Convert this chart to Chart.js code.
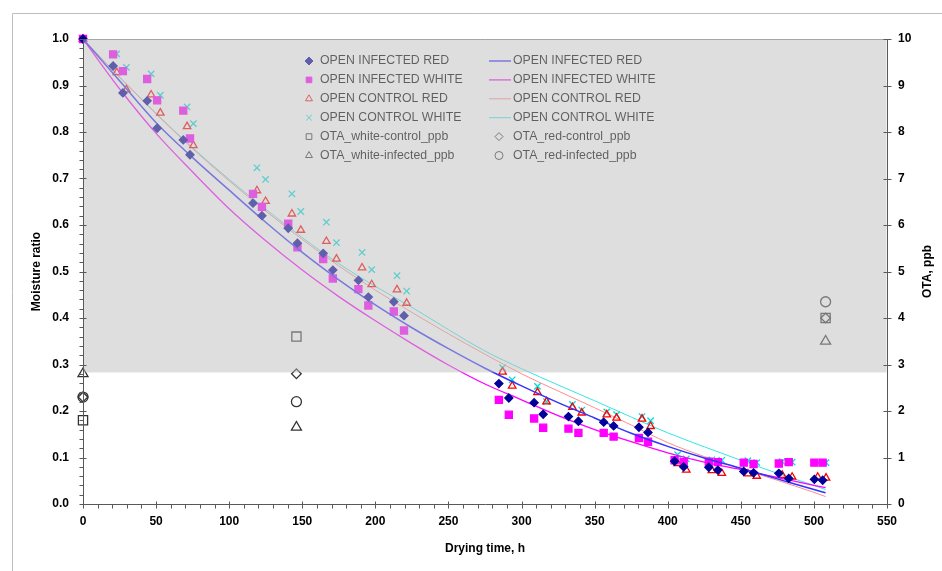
<!DOCTYPE html>
<html lang="en">
<head>
<meta charset="UTF-8">
<title>Moisture ratio and OTA during drying</title>
<script src="https://cdn.jsdelivr.net/npm/chart.js"></script>
<style>
  body { margin: 0; background: #fff; }
  canvas { display: block; }
</style>
</head>
<body>
<canvas id="chart" width="942" height="571"></canvas>
<script>
// sampling times (h): infected samples and control samples
const tInfected = [0, 20.6, 27.3, 43.9, 50.7, 68.6, 73.2, 116.3, 122.4, 140.4, 146.7, 164.3, 170.9, 188.4, 195.2, 212.6, 219.6,
  284.5, 291.3, 308.6, 314.8, 332.1, 338.9, 356.2, 363, 380.3, 386.5, 404.7, 410.9, 428.1, 434.3, 452, 458.7, 476, 482.8, 500.3, 506];
const tControl = [0, 23.1, 29.7, 46.6, 52.9, 71.2, 75.5, 119, 124.9, 142.9, 149, 166.5, 173.4, 190.9, 197.5, 214.8, 221.4,
  287, 293.6, 310.9, 317.1, 334.8, 341.2, 358.3, 365, 382.4, 388.3, 406.8, 412.7, 430.2, 437, 454.8, 460.9, 478.3, 485.1, 502.6, 508.3];

// measured moisture ratio
const mrInfectedRed = [1, 0.942, 0.884, 0.867, 0.808, 0.783, 0.751, 0.647, 0.620, 0.593, 0.561, 0.539, 0.503, 0.481, 0.445, 0.435, 0.405,
  0.259, 0.228, 0.218, 0.193, 0.188, 0.178, 0.176, 0.168, 0.165, 0.154, 0.092, 0.080, 0.079, 0.073, 0.070, 0.067, 0.066, 0.055, 0.053, 0.051];
const mrInfectedWhite = [1, 0.967, 0.931, 0.914, 0.868, 0.846, 0.786, 0.667, 0.639, 0.603, 0.552, 0.527, 0.485, 0.462, 0.427, 0.414, 0.373,
  0.224, 0.192, 0.184, 0.164, 0.162, 0.153, 0.153, 0.145, 0.142, 0.134, 0.094, 0.090, 0.091, 0.090, 0.089, 0.086, 0.087, 0.090, 0.089, 0.089];
const mrControlRed = [1, 0.928, 0.891, 0.880, 0.841, 0.812, 0.771, 0.674, 0.651, 0.624, 0.589, 0.565, 0.527, 0.508, 0.472, 0.461, 0.432,
  0.284, 0.254, 0.240, 0.220, 0.208, 0.196, 0.192, 0.185, 0.183, 0.167, 0.087, 0.073, 0.072, 0.066, 0.065, 0.060, 0.062, 0.058, 0.058, 0.056];
const mrControlWhite = [1, 0.968, 0.939, 0.925, 0.879, 0.854, 0.818, 0.723, 0.698, 0.667, 0.629, 0.606, 0.562, 0.541, 0.504, 0.491, 0.458,
  0.293, 0.267, 0.253, 0.220, 0.214, 0.202, 0.198, 0.192, 0.188, 0.179, 0.106, 0.097, 0.095, 0.094, 0.093, 0.089, 0.091, 0.090, 0.089, 0.089];

// fitted drying curves
const tFit = [0, 25, 50, 75, 100, 125, 150, 175, 200, 225, 250, 275, 300, 325, 350, 375, 400, 425, 450, 475, 500, 508];
const fitInfectedRed = [1, 0.91, 0.82, 0.745, 0.675, 0.606, 0.541, 0.482, 0.428, 0.379, 0.334, 0.292, 0.254, 0.218, 0.185, 0.152, 0.124, 0.099, 0.077, 0.054, 0.031, 0.024];
const fitInfectedWhite = [1, 0.893, 0.797, 0.714, 0.635, 0.566, 0.503, 0.446, 0.394, 0.345, 0.299, 0.258, 0.224, 0.19, 0.16, 0.134, 0.110, 0.090, 0.074, 0.057, 0.040, 0.035];
const fitControlRed = [1, 0.918, 0.839, 0.764, 0.695, 0.630, 0.569, 0.512, 0.460, 0.412, 0.366, 0.322, 0.280, 0.243, 0.207, 0.170, 0.132, 0.102, 0.076, 0.051, 0.025, 0.016];
const fitControlWhite = [1, 0.918, 0.840, 0.766, 0.698, 0.634, 0.573, 0.517, 0.468, 0.423, 0.375, 0.329, 0.291, 0.256, 0.222, 0.187, 0.153, 0.123, 0.094, 0.066, 0.040, 0.031];

// OTA (ppb), right axis
const tOta = [0, 146, 508];
const otaWhiteControl = [1.8, 3.6, 4.0];
const otaRedControl = [2.3, 2.8, 4.0];
const otaWhiteInfected = [2.8, 1.65, 3.5];
const otaRedInfected = [2.3, 2.2, 4.35];

const xTicks = [0, 50, 100, 150, 200, 250, 300, 350, 400, 450, 500, 550];
const mrTicks = [0, 0.1, 0.2, 0.3, 0.4, 0.5, 0.6, 0.7, 0.8, 0.9, 1.0];
const otaTicks = [0, 1, 2, 3, 4, 5, 6, 7, 8, 9, 10];

function pts(xs, ys) {
  return xs.map((x, i) => ({ x: x, y: ys[i] }));
}

function marks(label, xs, ys, style, color, fill, radius, axis) {
  return {
    label: label,
    data: pts(xs, ys),
    yAxisID: axis || 'y',
    showLine: false,
    pointStyle: style,
    pointRadius: radius,
    pointBorderColor: color,
    pointBackgroundColor: fill,
    pointBorderWidth: 1.3,
    borderColor: color,
    backgroundColor: fill,
    clip: false
  };
}

function curve(label, ys, color, width) {
  return {
    label: label,
    data: pts(tFit, ys),
    yAxisID: 'y',
    showLine: true,
    pointRadius: 0,
    borderColor: color,
    backgroundColor: color,
    borderWidth: width,
    cubicInterpolationMode: 'monotone',
    clip: false
  };
}

const datasets = [
  marks('OPEN INFECTED RED', tInfected, mrInfectedRed, 'rectRot', '#000099', '#000099', 4),
  curve('OPEN INFECTED RED', fitInfectedRed, '#3333ff', 1.5),
  marks('OPEN INFECTED WHITE', tInfected, mrInfectedWhite, 'rect', '#ff00ff', '#ff00ff', 5),
  curve('OPEN INFECTED WHITE', fitInfectedWhite, '#ff00ff', 1.3),
  marks('OPEN CONTROL RED', tControl, mrControlRed, 'triangle', '#ff0000', 'rgba(0,0,0,0)', 4.3),
  curve('OPEN CONTROL RED', fitControlRed, '#ff8c8c', 1),
  marks('OPEN CONTROL WHITE', tControl, mrControlWhite, 'crossRot', '#00dddd', 'rgba(0,0,0,0)', 4.5),
  curve('OPEN CONTROL WHITE', fitControlWhite, '#33e6e6', 1),
  marks('OTA_white-control_ppb', tOta, otaWhiteControl, 'rect', '#333333', 'rgba(0,0,0,0)', 6.5, 'y2'),
  marks('OTA_red-control_ppb', tOta, otaRedControl, 'rectRot', '#333333', 'rgba(0,0,0,0)', 4.8, 'y2'),
  marks('OTA_white-infected_ppb', tOta, otaWhiteInfected, 'triangle', '#333333', 'rgba(0,0,0,0)', 5.8, 'y2'),
  marks('OTA_red-infected_ppb', tOta, otaRedInfected, 'circle', '#333333', 'rgba(0,0,0,0)', 5, 'y2')
];

// legend box: grey translucent panel laid over the upper part of the plot
const panelBottom = 0.283;

const decorations = {
  id: 'decorations',
  afterDatasetsDraw(chart) {
    const ctx = chart.ctx;
    const area = chart.chartArea;
    const yS = chart.scales.y;

    // legend entries, two columns
    ctx.save();
    ctx.font = '12.3px "Liberation Sans", Arial, sans-serif';
    ctx.textBaseline = 'middle';
    ctx.textAlign = 'left';
    chart.data.datasets.forEach((ds, i) => {
      const col = i % 2;
      const row = Math.floor(i / 2);
      const y = 61 + row * 18.9;
      const textX = col === 0 ? 320 : 513;
      if (ds.showLine) {
        ctx.strokeStyle = ds.borderColor;
        ctx.lineWidth = ds.borderWidth;
        ctx.beginPath();
        ctx.moveTo(489, y);
        ctx.lineTo(511, y);
        ctx.stroke();
      } else {
        ctx.fillStyle = ds.backgroundColor;
        ctx.strokeStyle = ds.borderColor;
        ctx.lineWidth = 1;
        Chart.helpers.drawPoint(ctx, {
          pointStyle: ds.pointStyle,
          radius: Math.min(ds.pointRadius, 4),
          rotation: 0,
          borderWidth: 1
        }, col === 0 ? 309 : 499, y);
      }
      ctx.fillStyle = '#000';
      ctx.fillText(ds.label, textX, y);
    });
    ctx.restore();

    // translucent panel
    ctx.save();
    const bottom = yS.getPixelForValue(panelBottom);
    ctx.fillStyle = 'rgba(190,190,190,0.5)';
    ctx.fillRect(area.left + 1, area.top, area.right - area.left - 1.5, bottom - area.top);
    ctx.restore();
  },
  afterDraw(chart) {
    const ctx = chart.ctx;
    const area = chart.chartArea;
    const xS = chart.scales.x;
    const yS = chart.scales.y;
    const y2S = chart.scales.y2;
    const L = Math.round(area.left) + 0.5;
    const R = Math.round(area.right) + 0.5;
    const T = Math.round(area.top) + 0.5;
    const B = Math.round(area.bottom) + 0.5;

    ctx.save();
    // outer frame
    ctx.strokeStyle = '#bdbdbd';
    ctx.lineWidth = 1;
    ctx.beginPath();
    ctx.moveTo(942, 13.5);
    ctx.lineTo(12.5, 13.5);
    ctx.lineTo(12.5, 571);
    ctx.stroke();

    // plot top border
    ctx.strokeStyle = '#a6a6a6';
    ctx.beginPath();
    ctx.moveTo(L, T);
    ctx.lineTo(R, T);
    ctx.stroke();

    // axis lines
    ctx.strokeStyle = '#595959';
    ctx.beginPath();
    ctx.moveTo(L, T); ctx.lineTo(L, B);
    ctx.moveTo(L, B); ctx.lineTo(R, B);
    ctx.moveTo(R, T); ctx.lineTo(R, B);

    // x ticks: major every 50, minor every 10
    for (let v = 0; v <= 550; v += 10) {
      const px = Math.round(xS.getPixelForValue(v)) + 0.5;
      const major = v % 50 === 0;
      ctx.moveTo(px, major ? B - 3 : B);
      ctx.lineTo(px, B + 4);
    }
    // left ticks: major every 0.1, minor every 0.02
    for (let k = 0; k <= 50; k++) {
      const py = Math.round(yS.getPixelForValue(k * 0.02)) + 0.5;
      const major = k % 5 === 0;
      ctx.moveTo(L - 4, py);
      ctx.lineTo(major ? L + 3 : L, py);
    }
    // right ticks
    otaTicks.forEach(v => {
      const py = Math.round(y2S.getPixelForValue(v)) + 0.5;
      ctx.moveTo(R - 4, py);
      ctx.lineTo(R + 4, py);
    });
    ctx.stroke();

    // axis titles
    ctx.fillStyle = '#000';
    ctx.font = 'bold 12px "Liberation Sans", Arial, sans-serif';
    ctx.textAlign = 'center';
    ctx.textBaseline = 'middle';
    ctx.fillText('Drying time, h', (area.left + area.right) / 2, 549);
    const midY = (area.top + area.bottom) / 2;
    ctx.translate(37, midY);
    ctx.rotate(-Math.PI / 2);
    ctx.fillText('Moisture ratio', 0, 0);
    ctx.rotate(Math.PI / 2);
    ctx.translate(928 - 37, 0);
    ctx.rotate(-Math.PI / 2);
    ctx.fillText('OTA, ppb', 0, 0);
    ctx.restore();
  }
};

const tickFont = { family: '"Liberation Sans", Arial, sans-serif', size: 12, weight: 'bold' };

new Chart(document.getElementById('chart'), {
  type: 'scatter',
  data: { datasets: datasets },
  options: {
    responsive: false,
    animation: false,
    events: [],
    layout: { padding: { top: 39, left: 0, right: 0, bottom: 0 } },
    plugins: {
      legend: { display: false },
      tooltip: { enabled: false }
    },
    scales: {
      x: {
        type: 'linear',
        min: 0,
        max: 550,
        afterBuildTicks: s => { s.ticks = xTicks.map(v => ({ value: v })); },
        ticks: { font: tickFont, color: '#000', padding: 10, maxRotation: 0 },
        grid: { display: false, drawTicks: false },
        border: { display: false },
        afterFit: s => { s.height = 67; }
      },
      y: {
        type: 'linear',
        position: 'left',
        min: 0,
        max: 1,
        afterBuildTicks: s => { s.ticks = mrTicks.map(v => ({ value: v })); },
        ticks: { font: tickFont, color: '#000', padding: 14, callback: v => v.toFixed(1) },
        grid: { display: false, drawTicks: false },
        border: { display: false },
        afterFit: s => { s.width = 83; }
      },
      y2: {
        type: 'linear',
        position: 'right',
        min: 0,
        max: 10,
        afterBuildTicks: s => { s.ticks = otaTicks.map(v => ({ value: v })); },
        ticks: { font: tickFont, color: '#000', padding: 11, callback: v => String(v) },
        grid: { display: false, drawTicks: false },
        border: { display: false },
        afterFit: s => { s.width = 55; }
      }
    }
  },
  plugins: [decorations]
});
</script>
</body>
</html>
